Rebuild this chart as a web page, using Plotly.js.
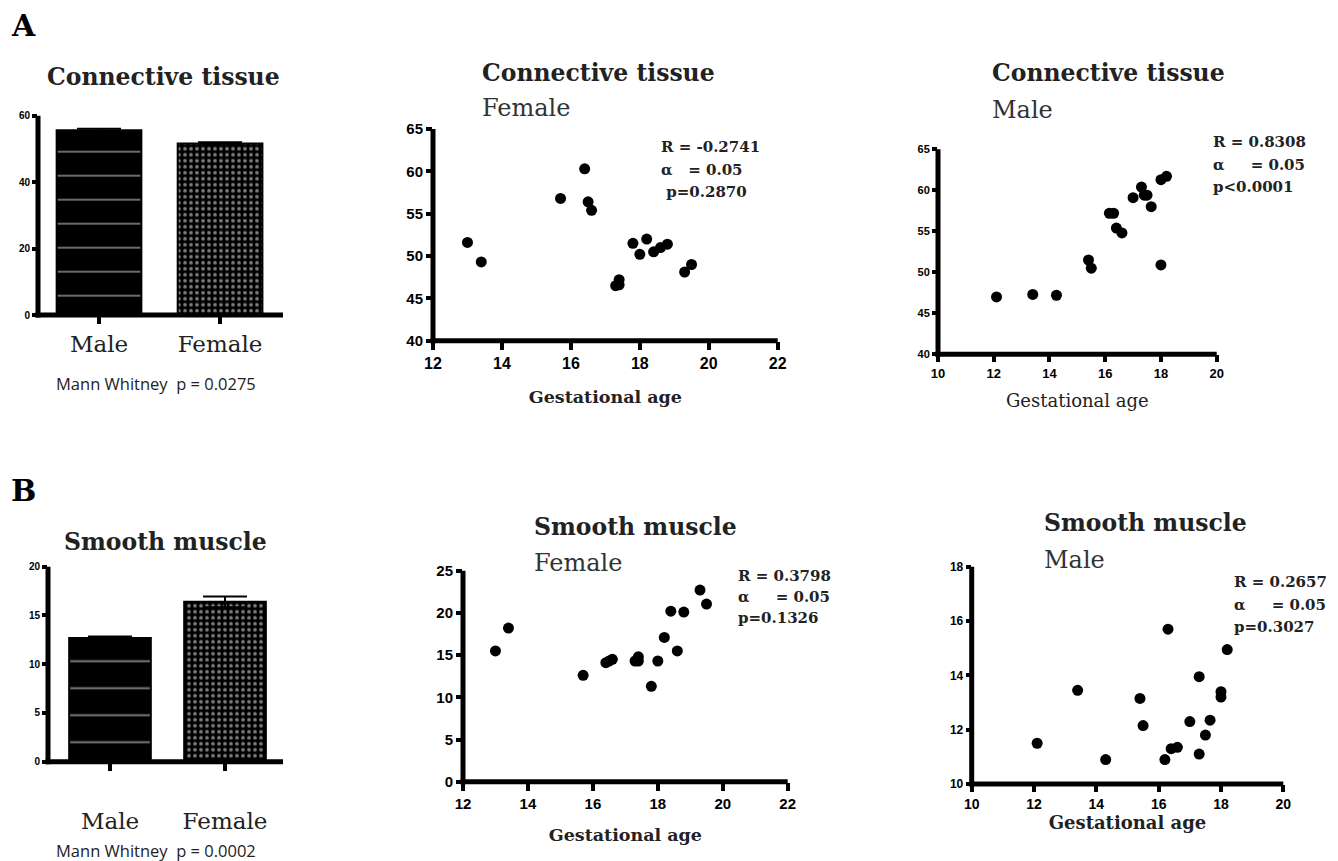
<!DOCTYPE html>
<html>
<head>
<meta charset="utf-8">
<script src="https://cdn.plot.ly/plotly-3.0.1.min.js"></script>
<style>html,body{margin:0;padding:0;background:#fff;}#chart{width:1338px;height:861px;}</style>
</head>
<body>
<div id="chart"></div>
<script>
// ---- data ----
const sexes = ['Male', 'Female'];
const ctMean = [55.6, 51.6];
const ctSem = [0.5, 0.4];
const smMean = [12.7, 16.4];
const smSem = [0.15, 0.55];

const ctFemaleAge = [13.0, 13.4, 15.7, 16.4, 16.5, 16.6, 17.3, 17.4, 17.4, 17.8, 18.0, 18.2, 18.4, 18.6, 18.8, 19.3, 19.5];
const ctFemale = [51.6, 49.3, 56.8, 60.3, 56.4, 55.4, 46.5, 47.2, 46.6, 51.5, 50.2, 52.0, 50.5, 51.0, 51.4, 48.1, 49.0];

const ctMaleAge = [12.1, 13.4, 14.25, 15.4, 15.5, 16.15, 16.3, 16.4, 16.6, 17.0, 17.3, 17.4, 17.5, 17.65, 18.0, 18.0, 18.2];
const ctMale = [47.0, 47.3, 47.2, 51.5, 50.5, 57.2, 57.2, 55.4, 54.8, 59.1, 60.4, 59.4, 59.4, 58.0, 50.9, 61.3, 61.7];

const smFemaleAge = [13.0, 13.4, 15.7, 16.4, 16.5, 16.6, 17.3, 17.4, 17.4, 17.8, 18.0, 18.2, 18.4, 18.6, 18.8, 19.3, 19.5];
const smFemale = [15.5, 18.2, 12.6, 14.1, 14.3, 14.5, 14.3, 14.8, 14.3, 11.3, 14.3, 17.1, 20.2, 15.5, 20.1, 22.7, 21.05];

const smMaleAge = [12.1, 13.4, 14.3, 15.4, 15.5, 16.2, 16.3, 16.4, 16.6, 17.0, 17.3, 17.3, 17.5, 17.65, 18.0, 18.0, 18.2];
const smMale = [11.5, 13.45, 10.9, 13.15, 12.15, 10.9, 15.7, 11.3, 11.35, 12.3, 13.95, 11.1, 11.8, 12.35, 13.4, 13.2, 14.95];

const statsText = {
  ctF: ['R = -0.2741', 'α   = 0.05', ' p=0.2870'],
  ctM: ['R = 0.8308', 'α     = 0.05', 'p<0.0001'],
  smF: ['R = 0.3798', 'α     = 0.05', 'p=0.1326'],
  smM: ['R = 0.2657', 'α     = 0.05', 'p=0.3027']
};

// ---- layout helpers ----
const W = 1338, H = 861;
const LW = 5;
const xd = (a, b) => [a / W, b / W];
const yd = (top, bottom) => [1 - bottom / H, 1 - top / H];
const SERIF = 'DejaVu Serif, Liberation Serif, serif';
const SANSB = 'Liberation Sans Narrow, Liberation Sans, Arial, sans-serif';

function axisBase(extra) {
  return Object.assign({
    showline: false, showgrid: false, zeroline: false,
    ticks: 'outside', ticklen: 8, tickwidth: 4, tickcolor: 'black',
    fixedrange: true
  }, extra);
}

const scatterMarker = { color: 'black', size: 11 };

function barMarker(sizes, sol) {
  return {
    color: ['black', 'black'], line: { color: 'black', width: 2 },
    pattern: { fillmode: 'overlay', shape: ['-', '.'], fgcolor: ['white', 'white'], bgcolor: ['black', 'black'],
      size: sizes, solidity: sol }
  };
}

const traces = [
  { type: 'bar', x: sexes, y: ctMean, xaxis: 'x', yaxis: 'y', width: 0.70,
    error_y: { type: 'data', array: ctSem, color: 'black', thickness: 2, width: 22 },
    marker: barMarker([24, 6], [0.07, 0.3]) },
  { type: 'scatter', mode: 'markers', x: ctFemaleAge, y: ctFemale, xaxis: 'x2', yaxis: 'y2', marker: scatterMarker },
  { type: 'scatter', mode: 'markers', x: ctMaleAge, y: ctMale, xaxis: 'x3', yaxis: 'y3', marker: scatterMarker },
  { type: 'bar', x: sexes, y: smMean, xaxis: 'x4', yaxis: 'y4', width: 0.71,
    error_y: { type: 'data', array: smSem, color: 'black', thickness: 2, width: 22 },
    marker: barMarker([27, 6], [0.07, 0.3]) },
  { type: 'scatter', mode: 'markers', x: smFemaleAge, y: smFemale, xaxis: 'x5', yaxis: 'y5', marker: scatterMarker },
  { type: 'scatter', mode: 'markers', x: smMaleAge, y: smMale, xaxis: 'x6', yaxis: 'y6', marker: scatterMarker }
];

const catFont = { family: SERIF, size: 23, color: '#222' };
const gaBold = { family: SERIF, size: 17.5, color: '#222', weight: 'bold' };

// plot-area boxes in page pixels: [left, right, top, bottom]
const boxes = [
  [38, 283, 115.7, 315], [433, 777.7, 129, 340.7], [938, 1216.7, 149.3, 354.3],
  [48, 283, 566.7, 761.7], [463, 787.7, 570.7, 781.7], [971.7, 1283.3, 566.7, 784]
];

const layout = {
  width: W, height: H,
  margin: { l: 0, r: 0, t: 0, b: 0 },
  paper_bgcolor: 'white', plot_bgcolor: 'white',
  showlegend: false,
  xaxis: axisBase({ domain: xd(boxes[0][0], boxes[0][1]), anchor: 'y', type: 'category', range: [-0.504, 1.52],
    tickfont: catFont, ticklabelstandoff: 0 }),
  yaxis: axisBase({ domain: yd(boxes[0][2], boxes[0][3]), anchor: 'x', range: [0, 60], dtick: 20, ticklen: 5,
    tickfont: { family: SANSB, size: 10, color: 'black', weight: 'bold' } }),
  xaxis2: axisBase({ domain: xd(boxes[1][0], boxes[1][1]), anchor: 'y2', range: [12, 22], dtick: 2,
    tickfont: { family: SANSB, size: 16, color: 'black', weight: 'bold' },
    title: { text: 'Gestational age', font: gaBold, standoff: 19 } }),
  yaxis2: axisBase({ domain: yd(boxes[1][2], boxes[1][3]), anchor: 'x2', range: [40, 65], dtick: 5, ticklen: 6,
    tickfont: { family: SANSB, size: 15, color: 'black', weight: 'bold' } }),
  xaxis3: axisBase({ domain: xd(boxes[2][0], boxes[2][1]), anchor: 'y3', range: [10, 20], dtick: 2, ticklen: 7,
    tickfont: { family: SANSB, size: 13, color: 'black', weight: 'bold' },
    title: { text: 'Gestational age', font: { family: SERIF, size: 18, color: '#222' }, standoff: 14 } }),
  yaxis3: axisBase({ domain: yd(boxes[2][2], boxes[2][3]), anchor: 'x3', range: [40, 65], dtick: 5, ticklen: 5,
    tickfont: { family: SANSB, size: 11, color: 'black', weight: 'bold' } }),
  xaxis4: axisBase({ domain: xd(boxes[3][0], boxes[3][1]), anchor: 'y4', type: 'category', range: [-0.539, 1.504],
    tickfont: catFont, ticklabelstandoff: 31 }),
  yaxis4: axisBase({ domain: yd(boxes[3][2], boxes[3][3]), anchor: 'x4', range: [0, 20], dtick: 5, ticklen: 5,
    tickfont: { family: SANSB, size: 10, color: 'black', weight: 'bold' } }),
  xaxis5: axisBase({ domain: xd(boxes[4][0], boxes[4][1]), anchor: 'y5', range: [12, 22], dtick: 2,
    tickfont: { family: SANSB, size: 15, color: 'black', weight: 'bold' },
    title: { text: 'Gestational age', font: gaBold, standoff: 18 } }),
  yaxis5: axisBase({ domain: yd(boxes[4][2], boxes[4][3]), anchor: 'x5', range: [0, 25], dtick: 5, ticklen: 6,
    tickfont: { family: SANSB, size: 15, color: 'black', weight: 'bold' } }),
  xaxis6: axisBase({ domain: xd(boxes[5][0], boxes[5][1]), anchor: 'y6', range: [10, 20], dtick: 2, ticklen: 7,
    tickfont: { family: SANSB, size: 14, color: 'black', weight: 'bold' },
    title: { text: 'Gestational age', font: Object.assign({}, gaBold, { size: 18 }), standoff: 4 } }),
  yaxis6: axisBase({ domain: yd(boxes[5][2], boxes[5][3]), anchor: 'x6', range: [10, 18], dtick: 2, ticklen: 5,
    tickfont: { family: SANSB, size: 12, color: 'black', weight: 'bold' } }),
  annotations: [],
  shapes: []
};

// thick axis lines drawn on each subplot's domain edges
boxes.forEach(function (b, i) {
  const s = i === 0 ? '' : String(i + 1);
  const wpx = b[1] - b[0], hpx = b[3] - b[2];
  const ext = (LW / 2) / wpx, exty = (LW / 2) / hpx;
  layout.shapes.push({ type: 'line', layer: 'above', xref: 'x' + s + ' domain', yref: 'y' + s + ' domain',
    x0: 0, x1: 0, y0: -exty, y1: 1, line: { color: 'black', width: LW } });
  layout.shapes.push({ type: 'line', layer: 'above', xref: 'x' + s + ' domain', yref: 'y' + s + ' domain',
    x0: -ext, x1: 1, y0: 0, y1: 0, line: { color: 'black', width: LW } });
});

function txt(x, y, text, font, xanchor) {
  layout.annotations.push({ xref: 'paper', yref: 'paper', x: x / W, y: 1 - y / H, text: text,
    showarrow: false, xanchor: xanchor || 'left', yanchor: 'middle', font: font, align: 'left' });
}
const titleFont = { family: SERIF, size: 23.5, color: '#222', weight: 'bold' };
const subFont = { family: SERIF, size: 24, color: '#333' };
const statFont = { family: SERIF, size: 15, color: '#222', weight: 'bold' };
const mwFont = { family: 'Open Sans, Liberation Sans, sans-serif', size: 16.5, color: '#222' };

txt(9, 26, 'A', { family: SERIF, size: 30, color: 'black', weight: 'bold' });
txt(9, 490, 'B', { family: SERIF, size: 30, color: 'black', weight: 'bold' });
txt(163, 77, 'Connective tissue', titleFont, 'center');
txt(156, 383, 'Mann Whitney  p = 0.0275', mwFont, 'center');
txt(480, 73, 'Connective tissue', titleFont);
txt(480, 108, 'Female', subFont);
txt(990, 73, 'Connective tissue', titleFont);
txt(990, 110, 'Male', subFont);
txt(165, 542, 'Smooth muscle', titleFont, 'center');
txt(156, 850, 'Mann Whitney  p = 0.0002', mwFont, 'center');
txt(532, 527, 'Smooth muscle', titleFont);
txt(532, 563, 'Female', subFont);
txt(1042, 523, 'Smooth muscle', titleFont);
txt(1042, 560, 'Male', subFont);
function stats(x, y0, lines, gap) {
  lines.forEach((l, i) => txt(x, y0 + i * gap, l, statFont));
}
stats(659, 147, statsText.ctF, 22.5);
stats(1211, 142, statsText.ctM, 22.5);
stats(736, 576, statsText.smF, 21);
stats(1232, 582, statsText.smM, 22.5);

Plotly.newPlot('chart', traces, layout, { staticPlot: true, displayModeBar: false });
</script>
</body>
</html>
